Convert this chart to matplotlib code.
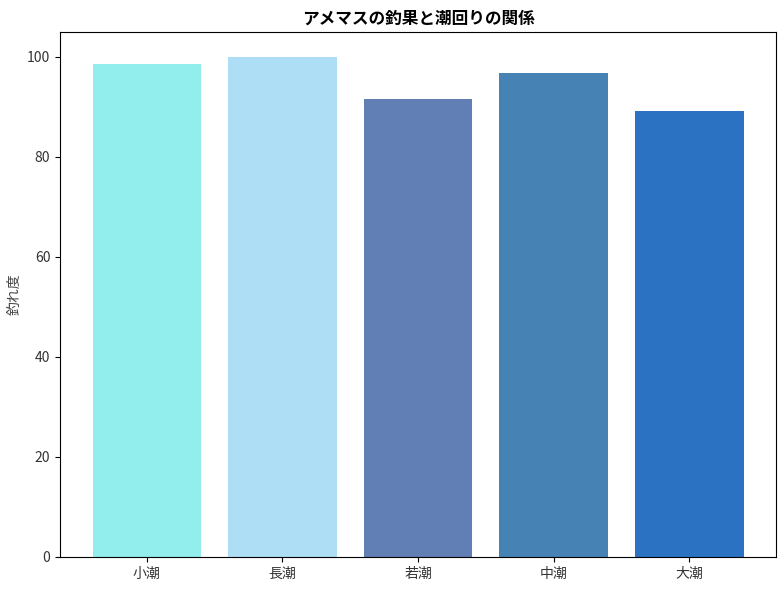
import matplotlib
matplotlib.use("Agg")
import matplotlib.pyplot as plt

plt.rcParams["font.family"] = ["Noto Sans CJK JP", "DejaVu Sans"]

# data
tides = ["小潮", "長潮", "若潮", "中潮", "大潮"]
catch_rate = [98.6, 100.0, 91.6, 96.8, 89.2]
bar_colors = ["#92EDED", "#AEDEF5", "#617FB4", "#4682B4", "#2B72C2"]

fig, ax = plt.subplots(figsize=(7.84, 5.9), dpi=100)
ax.bar(tides, catch_rate, color=bar_colors, width=0.8)

ax.set_ylim(0, 105)
ax.set_ylabel("釣れ度", fontsize=10, color="#444444")
ax.set_title("アメマスの釣果と潮回りの関係", fontsize=12, fontweight="bold")
ax.tick_params(labelsize=10, labelcolor="#333333")

fig.subplots_adjust(left=0.0765, right=0.99, top=0.946, bottom=0.056)
fig.savefig("out.png", dpi=100)
